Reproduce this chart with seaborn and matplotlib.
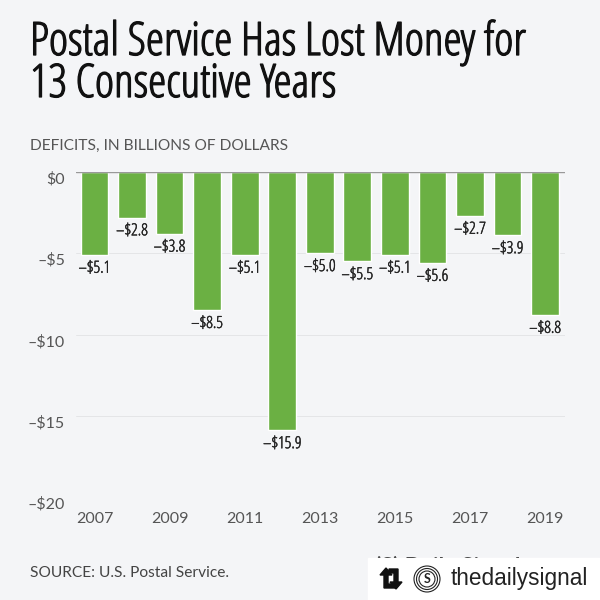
import matplotlib
matplotlib.use('Agg')
import numpy as np
import pandas as pd
import seaborn as sns
from matplotlib import pyplot as plt
from matplotlib import patheffects as pe
from matplotlib.patches import Rectangle, Circle, Polygon

years = [2007, 2008, 2009, 2010, 2011, 2012, 2013, 2014, 2015, 2016, 2017, 2018, 2019]
deficits = [-5.1, -2.8, -3.8, -8.5, -5.1, -15.9, -5.0, -5.5, -5.1, -5.6, -2.7, -3.9, -8.8]
y_ticks = [0, -5, -10, -15, -20]
y_labels = ['$0', '–$5', '–$10', '–$15', '–$20']

BG = '#f4f5f7'
COND = ['Open Sans', 'DejaVu Sans']

sns.set_theme(style='white')
plt.rcParams['font.family'] = ['Lato', 'DejaVu Sans']
plt.rcParams['text.parse_math'] = False

df = pd.DataFrame({'year': years, 'deficit': deficits})

fig = plt.figure(figsize=(6, 6), dpi=100, facecolor=BG)
ax = fig.add_axes([76/600, 1-497/600, 489/600, (497-172)/600], facecolor=BG)

sns.barplot(data=df, x='year', y='deficit', color='#6bb043', saturation=1, width=0.74, ax=ax)

ax.set_ylim(-20, 0)
ax.set_xlim(-0.49, 12.53)
ax.set_yticks(y_ticks)
ax.set_yticklabels(y_labels, fontsize=11.5, color='#555555', va='top')
ax.set_xticks(range(0, 13, 2))
ax.set_xticklabels(years[::2], fontsize=11.5, color='#555555')
ax.set_xlabel('')
ax.set_ylabel('')
ax.tick_params(length=0, pad=8)
ax.tick_params(axis='x', pad=10.5)
ax.grid(axis='y', color='#e4e5e7', lw=0.7)
ax.set_axisbelow(True)
sns.despine(ax=ax, left=True, bottom=True)
ax.axhline(0, color='#999999', lw=1)

for i, v in enumerate(deficits):
    ax.text(i, v - 0.36, '–$%.1f' % abs(v), ha='center', va='top', fontsize=12,
            color='#222222', family=COND, stretch='condensed',
            path_effects=[pe.withStroke(linewidth=0.3, foreground='#222222')])

# light condensed face, thickened to the title's weight
thick = [pe.withStroke(linewidth=0.9, foreground='#111111')]
fig.text(30/600, 1-43/600, 'Postal Service Has Lost Money for', fontsize=33.2, color='#111111',
         family=COND, stretch='condensed', va='center', path_effects=thick)
fig.text(30/600, 1-85/600, '13 Consecutive Years', fontsize=33.2, color='#111111',
         family=COND, stretch='condensed', va='center', path_effects=thick)
fig.text(30/600, 1-146/600, 'DEFICITS, IN BILLIONS OF DOLLARS', fontsize=11.2, color='#555555', va='center')
fig.text(30/600, 1-573/600, 'SOURCE: U.S. Postal Service.', fontsize=11.2, color='#444444', va='center')

# logo text cut off by the repost banner
fig.text(375/600, 1-567/600, '(S) Daily Signal', fontsize=16, weight='bold', color='#222222', va='center', zorder=4)

# repost banner
fig.add_artist(Rectangle((368/600, 0), 232/600, 42/600, transform=fig.transFigure, color='white', zorder=5))

# repost arrows, no font has this sign
fig.add_artist(Polygon([(x/600, 1-y/600) for x, y in [(386, 568), (392, 575), (388, 575), (388, 584), (396, 584), (396, 588), (384, 588), (384, 575), (380, 575)]],
                       transform=fig.transFigure, color='#111111', zorder=6))
fig.add_artist(Polygon([(x/600, 1-y/600) for x, y in [(396, 589), (390, 582), (394, 582), (394, 573), (389, 573), (389, 569), (398, 569), (398, 582), (402, 582)]],
                       transform=fig.transFigure, color='#111111', zorder=6))

# round account badge
for r, lw in [(13, 0.8), (10.5, 0.8), (8, 0.8)]:
    fig.add_artist(Circle((427/600, 1-579/600), r/600, transform=fig.transFigure, fill=False,
                          ec='#222222', lw=lw, zorder=6))
fig.text(427/600, 1-579/600, 'S', fontsize=9, weight='bold', color='#222222', va='center', ha='center', zorder=6)
fig.text(451/600, 1-579/600, 'thedailysignal', fontsize=16.3, color='#222222', va='center', zorder=6,
         family=['Liberation Sans', 'DejaVu Sans'])

fig.savefig('out.png', dpi=100, facecolor=BG)
